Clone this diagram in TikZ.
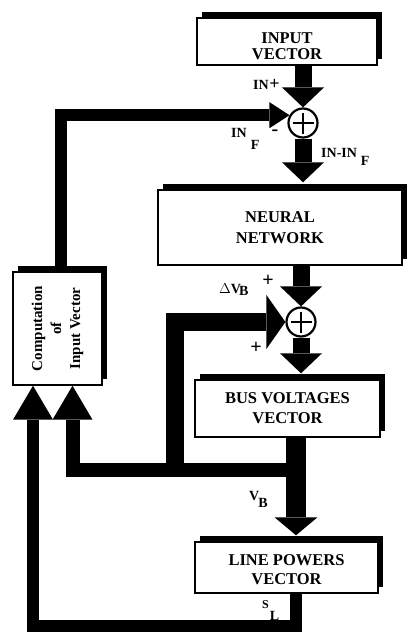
\documentclass[tikz,border=0pt]{standalone}
\usepackage{fontspec}
\setmainfont{Liberation Serif}
\usetikzlibrary{arrows.meta,shadows}
\begin{document}
\begin{tikzpicture}[x=1pt,y=-1pt,line join=miter,
  box/.style={draw, line width=1.4pt, fill=white, inner sep=0pt, align=center,
    font=\fontsize{16.5}{17.5}\selectfont\bfseries,
    general shadow={fill=black, shadow xshift=5pt, shadow yshift=6pt}},
  sumnode/.style={circle, draw, line width=2.2pt, fill=white, minimum size=29pt, inner sep=0pt,
    path picture={\draw[line width=2.6pt]
      ([yshift=-4pt]path picture bounding box.north) -- ([yshift=4pt]path picture bounding box.south)
      ([xshift=4pt]path picture bounding box.west) -- ([xshift=-4pt]path picture bounding box.east);}},
  lbl/.style={font=\fontsize{14}{15}\selectfont\bfseries, inner sep=0pt},
  pluslbl/.style={font=\fontsize{20}{20}\selectfont\bfseries, inner sep=0pt},
  fat/.style={line width=17pt, -{Triangle[width=42pt,length=20pt,line width=0pt]}},
  fatb/.style={line width=20pt, -{Triangle[width=43pt,length=18pt,line width=0pt]}},
  fbtop/.style={line width=12pt, -{Triangle[width=26pt,length=20pt,line width=0pt]}},
  fbup/.style={-{Triangle[width=40pt,length=34pt,line width=0pt]}},
  branch/.style={line width=18pt, -{Triangle[width=54pt,length=19pt,line width=0pt]}},
]
\useasboundingbox (0,0) rectangle (407,632);

% boxes
\node[box, minimum width=180pt, minimum height=47pt, font=\fontsize{16.5}{16}\selectfont\bfseries] (inp) at (287,41.5) {\rule{0pt}{21pt}INPUT\\VECTOR};
\node[box, minimum width=244pt, minimum height=75pt, font=\fontsize{16.5}{20.5}\selectfont\bfseries] (nn) at (280,227.5) {NEURAL\\NETWORK};
\node[box, minimum width=185pt, minimum height=57pt, font=\fontsize{16.5}{20}\selectfont\bfseries] (bus) at (287.5,408.5) {BUS VOLTAGES\\VECTOR};
\node[box, minimum width=183pt, minimum height=51pt, font=\fontsize{16.5}{18.5}\selectfont\bfseries] (lp) at (286.5,567.5) {\rule{0pt}{15pt}LINE POWERS\\VECTOR};
\node[box, minimum width=89pt, minimum height=113pt] (comp) at (57.5,328.5) {};
\node[font=\fontsize{15}{19}\selectfont\bfseries, align=center, rotate=90, inner sep=0pt]
  (comptext) at (comp.center) {Computation\\of\\Input Vector};

% summing junctions
\node[sumnode] (sum1) at (303,123) {};
\node[sumnode] (sum2) at (301,322) {};

% forward path
\draw[fat] (inp.south -| sum1) -- (sum1.north);
\draw[fat] (sum1.south) -- ([yshift=7pt]nn.north -| sum1);
\draw[fat] (nn.south -| sum2) -- (sum2.north);
\draw[fat] (sum2.south) -- ([yshift=6pt]bus.north -| sum2);
\draw[fatb] ([xshift=8.5pt]bus.south) -- ([xshift=9.5pt,yshift=6pt]lp.north);

% feedback paths
\draw[fbtop] ([xshift=3.5pt]comp.north) |- (sum1.150);
\draw[fbup, line width=14pt] ([xshift=8.5pt]bus.south) ++(0,32) -| ([xshift=15pt]comp.south);
\draw[branch] (175,476) |- (sum2.west);
\draw[fbup, line width=12pt] ([xshift=9.5pt]lp.south) |- (33,626) -- ([xshift=-24.5pt]comp.south);

% labels
\node[lbl, anchor=base west] (lin) at (253,89) {IN\kern0.5pt\raisebox{0pt}{\fontsize{18}{18}\selectfont +}};
\node[lbl, anchor=base west] (linf) at (231,137) {IN\kern4pt\raisebox{-12pt}{F}};
\node[pluslbl, anchor=center] (lminus) at (275,133) {-};
\node[lbl, anchor=base west] (linminus) at (321,157) {IN-IN\kern4pt\raisebox{-8pt}{F}};
\node[lbl, anchor=base west] (ldvb) at (219,293) {$\Delta$V\kern-2pt\raisebox{-2pt}{B}};
\node[pluslbl, anchor=center] (lplus1) at (268,281) {+};
\node[pluslbl, anchor=center] (lplus2) at (256,348) {+};
\node[lbl, anchor=base west] (lvb) at (249,500) {V\kern-1pt\raisebox{-7pt}{B}};
\node[lbl, anchor=base west] (lsl) at (262,608) {\fontsize{12}{12}\selectfont S\kern1pt\raisebox{-12pt}{\fontsize{14}{15}\selectfont L}};
\end{tikzpicture}
\end{document}
